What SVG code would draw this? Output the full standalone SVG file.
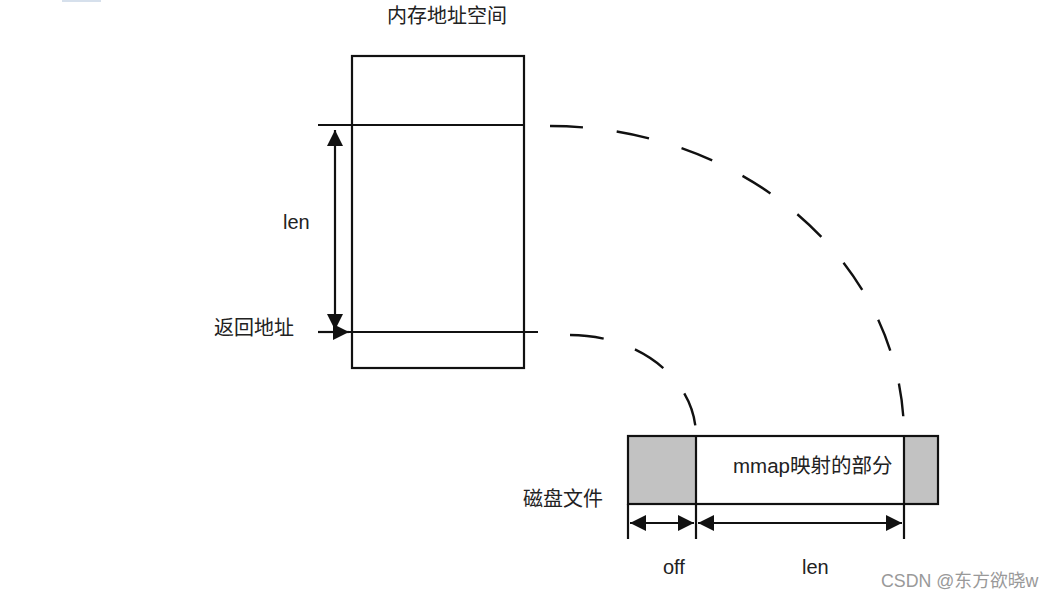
<svg xmlns="http://www.w3.org/2000/svg" width="1056" height="600" viewBox="0 0 1056 600">
<style>
.ln{stroke:#111;stroke-width:2.2;fill:none}
.dash{stroke:#111;stroke-width:2.4;fill:none;stroke-dasharray:33 34}
.t{font-family:"Liberation Sans","Noto Sans CJK SC",sans-serif;fill:#222;font-size:20px}
.wm{font-family:"Liberation Sans","Noto Sans CJK SC",sans-serif;fill:#999;font-size:17.8px}
</style>
<defs>
<marker id="ah" viewBox="0 0 10 10" refX="10" refY="5" markerWidth="16" markerHeight="16" markerUnits="userSpaceOnUse" orient="auto-start-reverse">
<path d="M0,0 L10,5 L0,10 Z" fill="#111"/>
</marker>
</defs>
<rect x="62" y="0" width="39" height="2" fill="#d6e0ec"/>
<g id="memory">
<rect x="352" y="56" width="172" height="312" class="ln"/>
<line x1="318" y1="125" x2="524" y2="125" class="ln"/>
<line x1="318" y1="332" x2="538" y2="332" class="ln"/>
<text x="387" y="23" class="t">内存地址空间</text>
</g>
<g id="disk">
<rect x="628" y="436" width="68" height="68" fill="#c2c2c2"/>
<rect x="904" y="436" width="34" height="68" fill="#c2c2c2"/>
<rect x="628" y="436" width="310" height="68" class="ln"/>
<line x1="628" y1="504" x2="628" y2="539" class="ln"/>
<line x1="696" y1="436" x2="696" y2="539" class="ln"/>
<line x1="904" y1="436" x2="904" y2="539" class="ln"/>
<text x="733" y="473" class="t" style="font-size:20.5px">mmap映射的部分</text>
<text x="523" y="506" class="t">磁盘文件</text>
</g>
<g id="connectors">
<line x1="335" y1="130" x2="335" y2="330" class="ln" marker-start="url(#ah)" marker-end="url(#ah)"/>
<line x1="318" y1="332" x2="349" y2="332" class="ln" marker-end="url(#ah)"/>
<line x1="630" y1="523" x2="694" y2="523" class="ln" marker-start="url(#ah)" marker-end="url(#ah)"/>
<line x1="698" y1="523" x2="902" y2="523" class="ln" marker-start="url(#ah)" marker-end="url(#ah)"/>
<path d="M550,126 A354,310 0 0 1 904,436" class="dash"/>
<path d="M570,335 A126,101 0 0 1 696,436" class="dash" style="stroke-dasharray:34 33"/>
</g>
<g id="labels">
<text x="283" y="229" class="t">len</text>
<text x="214" y="335" class="t">返回地址</text>
<text x="663" y="574" class="t">off</text>
<text x="802" y="574" class="t">len</text>
<text x="881" y="587" class="wm">CSDN @东方欲晓w</text>
</g>
</svg>
